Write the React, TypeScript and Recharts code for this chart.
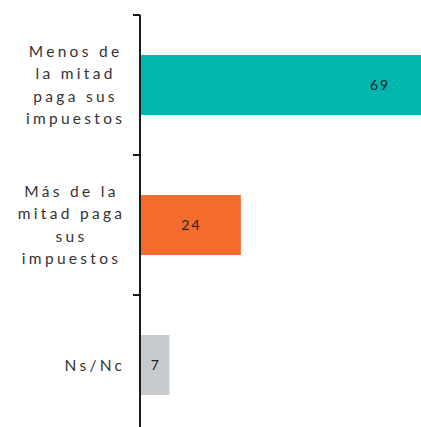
import React from 'react';
import { BarChart, Bar, XAxis, YAxis, Cell, LabelList } from 'recharts';

const categories = [
  'Menos de\nla mitad\npaga sus\nimpuestos',
  'Más de la\nmitad paga\nsus\nimpuestos',
  'Ns/Nc',
];
const values = [69, 24, 7];
const colors = ['#00B7B0', '#F36C2D', '#C8CBCE'];

const data = categories.map((name, i) => ({ name, value: values[i] }));

const W = 430;
const H = 435;
const TOP = 15;
const AXIS_W = 140;
const BAND = (H - TOP) / categories.length;
const FONT = 'Lato, "Open Sans", sans-serif';
const SIZE = 15.5;
const SPACING = 3.3;

let ctx: CanvasRenderingContext2D | null = null;
const measure = (s: string) => {
  if (!ctx) ctx = document.createElement('canvas').getContext('2d');
  if (!ctx) return s.length * SIZE * 0.6;
  ctx.font = `${SIZE}px Lato`;
  return ctx.measureText(s).width + SPACING * (s.length - 1);
};

const CategoryTick = (props: any) => {
  const { y, payload } = props;
  const lines: string[] = String(payload.value).split('\n');
  const widths = lines.map(measure);
  const maxW = Math.max(...widths);
  const right = AXIS_W - 18;
  const lh = 22.5;
  const y0 = y - ((lines.length - 1) * lh) / 2;
  return (
    <g>
      <line x1={AXIS_W - 7} x2={AXIS_W} y1={y - BAND / 2} y2={y - BAND / 2} stroke="#1a1a1a" strokeWidth={2} />
      {lines.map((l, i) => (
        <text key={i} x={right - maxW + (maxW - widths[i]) / 2} y={y0 + i * lh} dy="0.36em"
          fontSize={SIZE} fontFamily={FONT} letterSpacing={SPACING} fill="#333">{l}</text>
      ))}
    </g>
  );
};

const ValueLabel = (props: any) => {
  const { x, y, width, height, value } = props;
  const cx = Math.max(x + width / 2, x + width - 51);
  return (
    <text x={cx + 1} y={y + height / 2} dy="0.36em" textAnchor="middle" fontSize={14}
      fontFamily={FONT} letterSpacing={2} fill="#222">{value}</text>
  );
};

export default function App() {
  return (
    <div style={{ width: 421, height: 427, overflow: 'hidden', background: '#fff' }}>
      <style>{'body{margin:0;overflow:hidden}'}</style>
      <BarChart width={W} height={H} data={data} layout="vertical"
        margin={{ top: TOP, right: 0, bottom: 0, left: 0 }}>
        <XAxis type="number" domain={[0, 'dataMax']} hide />
        <YAxis type="category" dataKey="name" width={AXIS_W} tickLine={false}
          axisLine={{ stroke: '#1a1a1a', strokeWidth: 2 }} tick={<CategoryTick />} interval={0} />
        <Bar dataKey="value" barSize={60} isAnimationActive={false}>
          {data.map((d, i) => <Cell key={i} fill={colors[i]} />)}
          <LabelList dataKey="value" content={<ValueLabel />} />
        </Bar>
      </BarChart>
    </div>
  );
}
